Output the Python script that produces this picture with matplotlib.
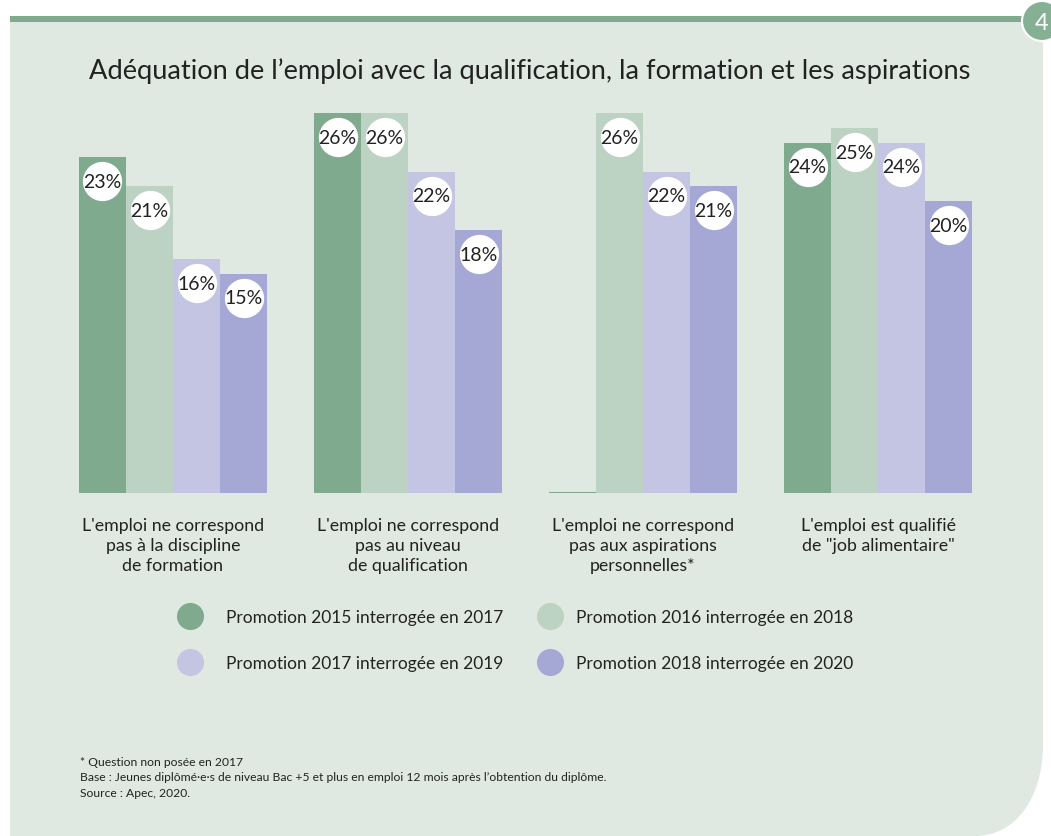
import numpy as np
import matplotlib
matplotlib.use("Agg")
import matplotlib.pyplot as plt
from matplotlib.path import Path
from matplotlib.patches import PathPatch, Circle
from matplotlib import transforms

#----------------------------------------------------------------
# Data
categories = ["L'emploi ne correspond\npas à la discipline\nde formation",
              "L'emploi ne correspond\npas au niveau\nde qualification",
              "L'emploi ne correspond\npas aux aspirations\npersonnelles*",
              "L'emploi est qualifié\nde \"job alimentaire\""]
series_names = ["Promotion 2015 interrogée en 2017",
                "Promotion 2016 interrogée en 2018",
                "Promotion 2017 interrogée en 2019",
                "Promotion 2018 interrogée en 2020"]
promo_2015 = [23, 26, 0, 24]   # question not asked in 2017 for the 3rd item
promo_2016 = [21, 26, 26, 25]
promo_2017 = [16, 22, 22, 24]
promo_2018 = [15, 18, 21, 20]
asked_2015 = [True, True, False, True]
#----------------------------------------------------------------

colors = ['#7faa8e', '#bcd2c3', '#c3c5e3', '#a5a7d4']
panel_bg = '#dfe9e1'
W, H = 1051, 837

plt.rcParams['font.family'] = ['Lato', 'DejaVu Sans']
fig = plt.figure(figsize=(W / 100, H / 100), dpi=100)
fig.patch.set_facecolor('white')

# background layer in pixel coordinates
bg = fig.add_axes([0, 0, 1, 1])
bg.set_xlim(0, W)
bg.set_ylim(H, 0)
bg.axis('off')

verts = [(10, 23), (1043, 23), (1043, 745),
         (1043, 800), (1015, 837), (975, 837),
         (10, 837), (10, 23)]
codes = [Path.MOVETO, Path.LINETO, Path.LINETO,
         Path.CURVE4, Path.CURVE4, Path.CURVE4,
         Path.LINETO, Path.CLOSEPOLY]
bg.add_patch(PathPatch(Path(verts, codes), facecolor=panel_bg, edgecolor='none'))
bg.add_patch(plt.Rectangle((10, 17), 1020, 6, facecolor='#7faa8e', edgecolor='none'))
bg.add_patch(Circle((1042, 22), 20, facecolor='#85b093', edgecolor='white', linewidth=1.5))
bg.text(1042, 23, "4", color='white', fontsize=17, ha='center', va='center')

bg.text(530, 71, "Adéquation de l’emploi avec la qualification, la formation et les aspirations",
        fontsize=19.6, ha='center', va='center', color='#222222')

# bar axes
base_px = 494
px_per_pct = 14.6
ax = fig.add_axes([10 / W, (H - base_px) / H, 1033 / W, 470 / H])
ax.patch.set_alpha(0)
ax.set_xlim(-(173 - 10) / 235, 3 + (1043 - 878) / 235)
ax.set_ylim(0, 470 / px_per_pct)
ax.axis('off')

x = np.arange(len(categories))
w = 0.2
all_series = [promo_2015, promo_2016, promo_2017, promo_2018]
label_tr = transforms.offset_copy(ax.transData, fig=fig, y=-24, units='dots')
for k, vals in enumerate(all_series):
    xs = x + (k - 1.5) * w
    ax.bar(xs, vals, width=w, color=colors[k], linewidth=0)
    for j, v in enumerate(vals):
        if k == 0 and not asked_2015[j]:
            ax.plot([xs[j] - w / 2, xs[j] + w / 2], [0, 0], color=colors[0], linewidth=1.5,
                    solid_capstyle='butt')
            continue
        ax.scatter(xs[j], v, s=800, color='white', zorder=3, transform=label_tr, linewidths=0)
        ax.text(xs[j], v, f"{v}%", transform=label_tr, ha='center', va='center',
                fontsize=14, color='#222222', zorder=4)

for j, cat in enumerate(categories):
    ax.text(x[j], -1.65, cat, ha='center', va='top', fontsize=12.8, color='#222222',
            linespacing=1.32)

# legend
leg_pos = [(190, 617), (550, 617), (190, 663), (550, 663)]
text_x = [226, 576, 226, 576]
for k, (lx, ly) in enumerate(leg_pos):
    bg.scatter(lx, ly, s=380, color=colors[k], linewidths=0)
    bg.text(text_x[k], ly + 1, series_names[k], fontsize=12.5, va='center', ha='left',
            color='#222222')

notes = ["* Question non posée en 2017",
         "Base : Jeunes diplômé·e·s de niveau Bac +5 et plus en emploi 12 mois après l’obtention du diplôme.",
         "Source : Apec, 2020."]
for i, n in enumerate(notes):
    bg.text(80, 762 + 16 * i, n, fontsize=8.7, va='center', ha='left', color='#222222')

fig.savefig("out.png", dpi=100)
